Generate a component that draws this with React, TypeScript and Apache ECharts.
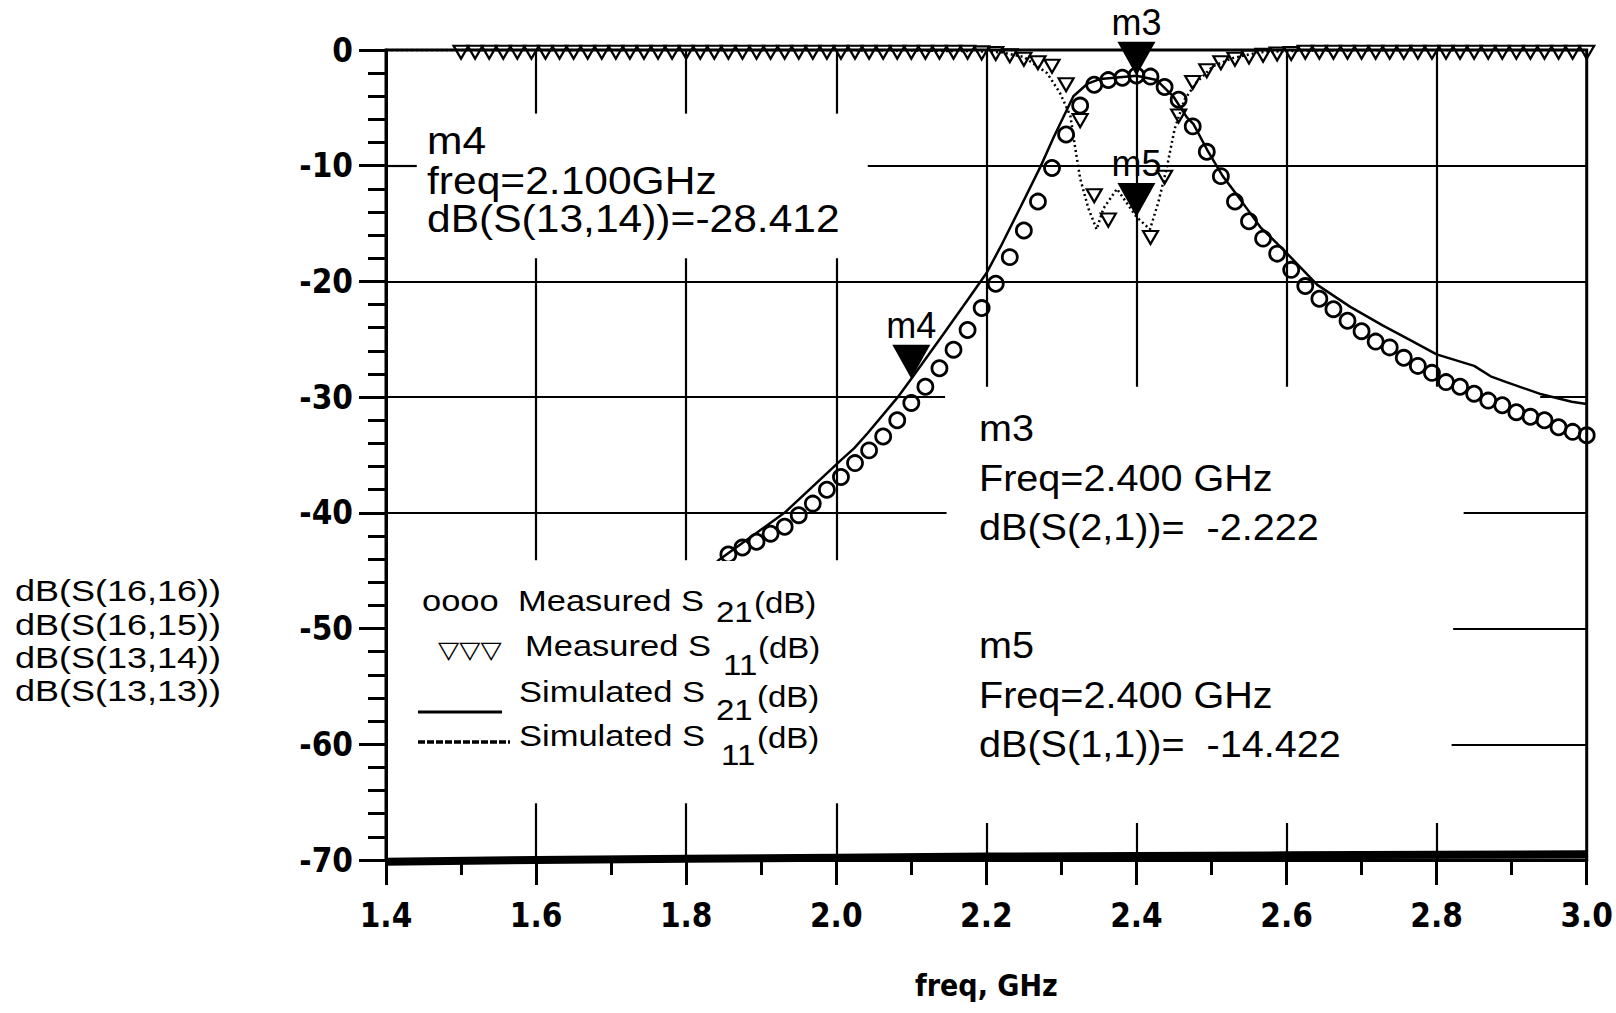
import React, { useEffect, useRef } from "react";
import * as echarts from "echarts";

// ---------------- axis ranges ----------------
const FREQ_MIN = 1.4;
const FREQ_MAX = 3.0;
const FREQ_STEP = 0.2;
const DB_MIN = -70;
const DB_MAX = 0;
const DB_STEP = 10;

// ---------------- measured data (VNA sweep 1.5 - 3.0 GHz) ----------------
const measFreq = [
  1.5, 1.51875, 1.5375, 1.55625, 1.575, 1.59375, 1.6125, 1.63125, 1.65, 1.66875,
  1.6875, 1.70625, 1.725, 1.74375, 1.7625, 1.78125, 1.8, 1.81875, 1.8375, 1.85625,
  1.875, 1.89375, 1.9125, 1.93125, 1.95, 1.96875, 1.9875, 2.00625, 2.025, 2.04375,
  2.0625, 2.08125, 2.1, 2.11875, 2.1375, 2.15625, 2.175, 2.19375, 2.2125, 2.23125,
  2.25, 2.26875, 2.2875, 2.30625, 2.325, 2.34375, 2.3625, 2.38125, 2.4, 2.41875,
  2.4375, 2.45625, 2.475, 2.49375, 2.5125, 2.53125, 2.55, 2.56875, 2.5875, 2.60625,
  2.625, 2.64375, 2.6625, 2.68125, 2.7, 2.71875, 2.7375, 2.75625, 2.775, 2.79375,
  2.8125, 2.83125, 2.85, 2.86875, 2.8875, 2.90625, 2.925, 2.94375, 2.9625, 2.98125,
  3.0,
];

// Measured S11 (dB) - the two points hidden under the m5 marker are not readable
const measS11Db = [
  -0.2, -0.2, -0.2, -0.2, -0.2, -0.2, -0.2, -0.2, -0.2, -0.2,
  -0.2, -0.2, -0.2, -0.2, -0.2, -0.2, -0.2, -0.2, -0.2, -0.2,
  -0.2, -0.2, -0.2, -0.2, -0.2, -0.2, -0.2, -0.2, -0.2, -0.2,
  -0.2, -0.2, -0.2, -0.2, -0.2, -0.2, -0.2, -0.25, -0.3, -0.5,
  -0.8, -1.1, -1.4, -3.0, -6.1, -12.6, -14.7, null, null, -16.2,
  -11.0, -5.7, -2.8, -1.8, -1.1, -0.8, -0.6, -0.45, -0.35, -0.3,
  -0.2, -0.2, -0.2, -0.2, -0.2, -0.2, -0.2, -0.2, -0.2, -0.2,
  -0.2, -0.2, -0.2, -0.2, -0.2, -0.2, -0.2, -0.2, -0.2, -0.2,
  -0.2,
];

// Measured S21 (dB) - points below -44 dB on the left are hidden behind the legend
const measS21Db = [
  null, null, null, null, null, null, null, null, null, null,
  null, null, null, null, null, null, null, null, null, -43.6,
  -43.0, -42.5, -41.8, -41.2, -40.2, -39.2, -38.0, -36.9, -35.7, -34.6,
  -33.4, -32.0, -30.5, -29.1, -27.5, -25.9, -24.2, -22.3, -20.2, -17.9,
  -15.6, -13.1, -10.2, -7.3, -4.8, -3.0, -2.6, -2.4, -2.2, -2.3,
  -3.2, -4.3, -6.6, -8.8, -10.9, -13.1, -14.8, -16.3, -17.6, -19.0,
  -20.4, -21.5, -22.4, -23.4, -24.3, -25.2, -25.7, -26.6, -27.3, -27.9,
  -28.7, -29.1, -29.7, -30.3, -30.7, -31.3, -31.7, -32.0, -32.6, -33.0,
  -33.3,
];

// ---------------- simulated data ----------------
const simS21Freq = [
  1.8, 1.843, 1.931, 2.007, 2.024, 2.042, 2.082, 2.1, 2.14, 2.175,
  2.2, 2.219, 2.246, 2.272, 2.29, 2.316, 2.335, 2.352, 2.4, 2.427,
  2.449, 2.467, 2.476, 2.494, 2.515, 2.529, 2.546, 2.565, 2.598, 2.641,
  2.685, 2.728, 2.763, 2.8, 2.85, 2.872, 2.893, 2.937, 2.98, 3.0,
];
const simS21Db = [
  -46.8, -44.1, -40.0, -35.4, -34.4, -33.1, -30.0, -28.412, -24.8, -21.6,
  -19.3, -17.0, -13.5, -10.1, -7.5, -4.0, -2.9, -2.5, -2.222, -2.6,
  -4.0, -5.8, -6.4, -8.6, -10.9, -12.1, -13.6, -15.3, -17.4, -20.3,
  -22.2, -23.8, -25.0, -26.3, -27.3, -28.2, -28.7, -29.7, -30.4, -30.6,
];

const simS11Freq = [
  1.4, 1.6, 1.8, 2.0, 2.1, 2.18, 2.22, 2.25, 2.281, 2.298,
  2.312, 2.318, 2.325, 2.336, 2.347, 2.356, 2.374, 2.4, 2.418, 2.429,
  2.44, 2.451, 2.464, 2.48, 2.502, 2.528, 2.563, 2.62, 2.8, 3.0,
];
const simS11Db = [
  0, 0, 0, 0, -0.05, -0.1, -0.2, -0.6, -2.0, -3.7,
  -5.7, -8.3, -11.1, -13.7, -15.5, -13.7, -12.0, -14.422, -15.5, -13.2,
  -10.3, -6.8, -4.3, -2.8, -1.4, -0.7, -0.2, -0.05, 0, 0,
];

// noise-floor traces piled on the -70 dB line
const floorFreq = [1.4, 1.6, 1.8, 2.0, 2.2, 2.4, 2.6, 2.8, 3.0];
const floorDb = [-70.15, -70.0, -69.9, -69.8, -69.7, -69.65, -69.6, -69.55, -69.5];

// ---------------- markers ----------------
const markerNames = ["m3", "m5", "m4"];
const markerFreq = [2.4, 2.4, 2.1];
const markerDb = [-2.222, -14.422, -28.412];

// ---------------- texts ----------------
const traceNames = ["dB(S(16,16))", "dB(S(16,15))", "dB(S(13,14))", "dB(S(13,13))"];
const m4Readout = ["m4", "freq=2.100GHz", "dB(S(13,14))=-28.412"];
const m3Readout = ["m3", "Freq=2.400 GHz", "dB(S(2,1))=  -2.222"];
const m5Readout = ["m5", "Freq=2.400 GHz", "dB(S(1,1))=  -14.422"];
const legendGlyphs = ["oooo", "\u25BD\u25BD\u25BD"];
const legendLabels = ["Measured S", "Measured S", "Simulated S", "Simulated S"];
const legendSubs = ["21", "11", "21", "11"];
const legendUnit = "(dB)";
const xAxisName = "freq, GHz";

// ---------------- layout (grid line pieces, not data) ----------------
const H_SEGMENTS: [number, number, number][] = [
  [-10, 1.4, 1.441], [-10, 2.042, 3.0],
  [-20, 1.4, 3.0],
  [-30, 1.4, 2.145], [-30, 2.938, 3.0],
  [-40, 1.4, 2.147], [-40, 2.836, 3.0],
  [-50, 2.822, 3.0],
  [-60, 2.82, 3.0],
];
const V_SEGMENTS: [number, number, number][] = [
  [1.6, 0, -5.5], [1.6, -18.0, -44.1], [1.6, -65.1, -70],
  [1.8, 0, -5.5], [1.8, -18.0, -44.1], [1.8, -65.1, -70],
  [2.0, 0, -5.5], [2.0, -18.0, -44.1], [2.0, -65.1, -70],
  [2.2, 0, -29.1], [2.2, -66.8, -70],
  [2.4, 0, -29.1], [2.4, -66.8, -70],
  [2.6, 0, -29.1], [2.6, -66.8, -70],
  [2.8, 0, -29.1], [2.8, -66.8, -70],
];

const SANS = '"Liberation Sans", Arial, sans-serif';
const NARROW = '"Liberation Sans Narrow", "DejaVu Sans Condensed", "Arial Narrow", "Liberation Sans", sans-serif';
const TRI = "path://M0,0L12,0L6,10Z";

function txt(text: string, x: number, y: number, size: number, sx: number, family = SANS) {
  return {
    type: "text",
    x,
    y,
    scaleX: sx,
    z: 101,
    style: {
      text,
      fontSize: size,
      fontFamily: family,
      fill: "#000",
      textAlign: "left",
      textVerticalAlign: "middle",
      align: "left",
      verticalAlign: "middle",
    },
  };
}

function buildOption() {
  const gridLines = [
    ...H_SEGMENTS.map(([y, x1, x2]) => ({ coords: [[x1, y], [x2, y]] })),
    ...V_SEGMENTS.map(([x, y1, y2]) => ({ coords: [[x, y1], [x, y2]] })),
  ];

  const graphic: any[] = [];
  // legend box (opaque)
  graphic.push({ type: "rect", z: 100, shape: { x: 388, y: 561, width: 562, height: 242 }, style: { fill: "#fff" } });
  // trace names at left
  const nameY = [591, 624.5, 657.5, 691];
  traceNames.forEach((t, i) => graphic.push(txt(t, 15, nameY[i], 30, 1.2)));
  // m4 readout
  const m4Y = [141, 181, 219];
  m4Readout.forEach((t, i) => graphic.push(txt(t, 427, m4Y[i], 38, 1.12)));
  // m3 / m5 readouts
  const m3Y = [428, 478, 527];
  m3Readout.forEach((t, i) => graphic.push(txt(t, 979, m3Y[i], 37, 1.07)));
  const m5Y = [645, 695, 744];
  m5Readout.forEach((t, i) => graphic.push(txt(t, 979, m5Y[i], 37, 1.07)));
  // legend entries
  graphic.push(txt(legendGlyphs[0], 422, 601, 30, 1.15));
  graphic.push(txt(legendGlyphs[1], 438, 650, 24, 1.15, '"DejaVu Sans", sans-serif'));
  const lblX = [518, 525, 519, 519];
  const lblY = [601, 646, 692, 736];
  const subX = [716, 723, 716, 721];
  const subY = [612, 665, 710, 755];
  const unitX = [754, 758, 757, 757];
  const unitY = [603, 648, 697, 738];
  legendLabels.forEach((t, i) => {
    graphic.push(txt(t, lblX[i], lblY[i], 30, 1.15));
    graphic.push(txt(legendSubs[i], subX[i], subY[i], 30, 1.1));
    graphic.push(txt(legendUnit, unitX[i], unitY[i], 30, 1.1));
  });
  graphic.push({ type: "line", z: 101, shape: { x1: 418, y1: 712, x2: 502, y2: 712 }, style: { stroke: "#000", lineWidth: 3 } });
  graphic.push({ type: "line", z: 101, shape: { x1: 418, y1: 742, x2: 510, y2: 742 }, style: { stroke: "#000", lineWidth: 3.5, lineDash: [7, 2] } });

  const axisLabelStyle = {
    fontFamily: NARROW,
    fontWeight: "bold",
    fontSize: 33,
    color: "#000",
  };

  return {
    animation: false,
    backgroundColor: "#fff",
    grid: {
      left: 386,
      right: 22,
      top: 50,
      bottom: 153,
      show: true,
      borderColor: "#000",
      borderWidth: 3,
      backgroundColor: "transparent",
    },
    xAxis: {
      type: "value",
      min: FREQ_MIN,
      max: FREQ_MAX,
      interval: FREQ_STEP,
      axisLine: { onZero: false, lineStyle: { color: "#000", width: 3 } },
      axisTick: { length: 25, lineStyle: { color: "#000", width: 3 } },
      minorTick: { show: true, splitNumber: 2, length: 15, lineStyle: { color: "#000", width: 3 } },
      splitLine: { show: false },
      minorSplitLine: { show: false },
      axisLabel: { ...axisLabelStyle, margin: 39, formatter: (v: number) => v.toFixed(1) },
      name: xAxisName,
      nameLocation: "middle",
      nameGap: 110,
      nameTextStyle: { fontFamily: NARROW, fontWeight: "bold", fontSize: 30, color: "#000" },
    },
    yAxis: {
      type: "value",
      min: DB_MIN,
      max: DB_MAX,
      interval: DB_STEP,
      axisLine: { onZero: false, lineStyle: { color: "#000", width: 3 } },
      axisTick: { length: 27, lineStyle: { color: "#000", width: 3 } },
      minorTick: { show: true, splitNumber: 5, length: 18, lineStyle: { color: "#000", width: 3 } },
      splitLine: { show: false },
      minorSplitLine: { show: false },
      axisLabel: { ...axisLabelStyle, margin: 33 },
    },
    series: [
      {
        name: "grid",
        type: "lines",
        coordinateSystem: "cartesian2d",
        polyline: false,
        silent: true,
        z: 1,
        lineStyle: { color: "#000", width: 2.2, opacity: 1, curveness: 0 },
        data: gridLines,
      },
      {
        name: "floor",
        type: "line",
        showSymbol: false,
        clip: false,
        silent: true,
        z: 2,
        lineStyle: { color: "#000", width: 8 },
        data: floorFreq.map((f, i) => [f, floorDb[i]]),
      },
      {
        name: "dB(S(13,14))",
        type: "line",
        showSymbol: false,
        silent: true,
        z: 3,
        lineStyle: { color: "#000", width: 2.5 },
        data: simS21Freq.map((f, i) => [f, simS21Db[i]]),
      },
      {
        name: "dB(S(13,13))",
        type: "line",
        showSymbol: false,
        silent: true,
        z: 3,
        lineStyle: { color: "#000", width: 2.5, type: [2, 3] },
        data: simS11Freq.map((f, i) => [f, simS11Db[i]]),
      },
      {
        name: "Measured S21",
        type: "scatter",
        symbol: "circle",
        symbolSize: 15,
        silent: true,
        z: 4,
        itemStyle: { color: "rgba(255,255,255,0)", borderColor: "#000", borderWidth: 2.8, opacity: 1 },
        data: measFreq
          .map((f, i) => [f, measS21Db[i]])
          .filter((p) => p[1] !== null),
      },
      {
        name: "Measured S11",
        type: "scatter",
        symbol: TRI,
        symbolSize: [15, 13],
        silent: true,
        z: 4,
        itemStyle: { color: "rgba(255,255,255,0)", borderColor: "#000", borderWidth: 2.2, opacity: 1 },
        data: measFreq
          .map((f, i) => [f, measS11Db[i]])
          .filter((p) => p[1] !== null),
      },
      {
        name: "markers",
        type: "scatter",
        symbol: TRI,
        symbolSize: [38, 34],
        symbolOffset: [0, -17],
        silent: true,
        z: 6,
        itemStyle: { color: "#000", opacity: 1 },
        label: {
          show: true,
          position: "top",
          distance: 1,
          fontFamily: SANS,
          fontSize: 36,
          color: "#000",
          opacity: 1,
          formatter: (p: any) => markerNames[p.dataIndex],
        },
        data: markerFreq.map((f, i) => [f, markerDb[i]]),
      },
    ],
    graphic,
  };
}

export default function App() {
  const ref = useRef<HTMLDivElement>(null);
  useEffect(() => {
    const chart = echarts.init(ref.current as HTMLDivElement, null, { renderer: "svg" });
    chart.setOption(buildOption() as any);
    return () => chart.dispose();
  }, []);
  return (
    <div
      ref={ref}
      style={{ position: "fixed", left: 0, top: 0, width: 1616, height: 1013, background: "#fff" }}
    />
  );
}
